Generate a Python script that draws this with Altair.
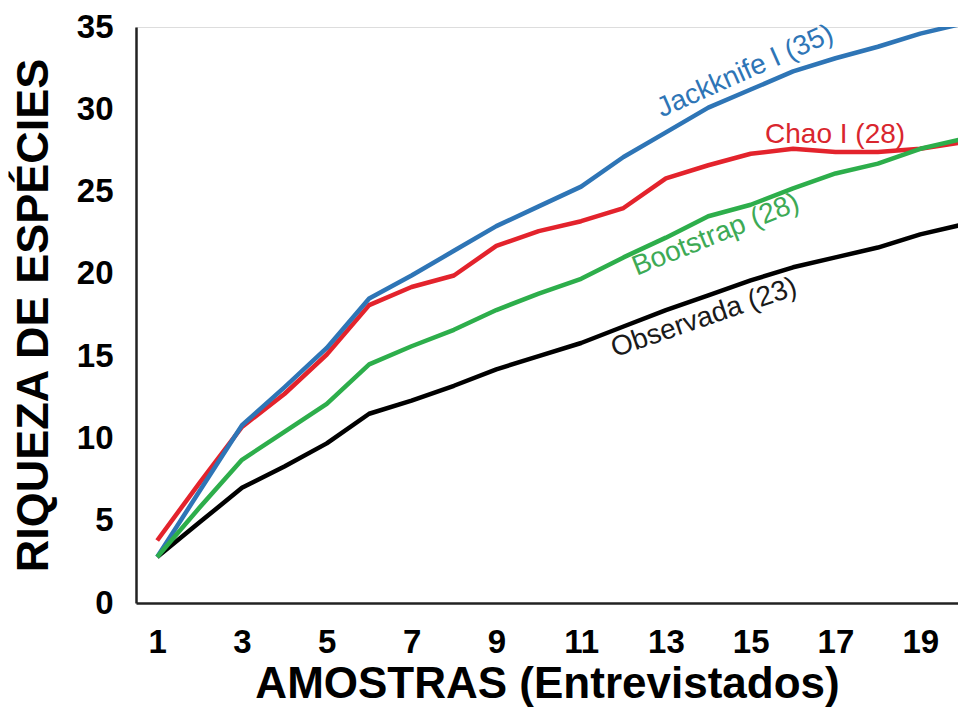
import altair as alt
import pandas as pd

# ---- data ----
amostras = list(range(1, 21))
observada = [2.8, 4.9, 7.0, 8.3, 9.7, 11.5, 12.3, 13.2, 14.2, 15.0, 15.8, 16.8, 17.8, 18.7, 19.6, 20.4, 21.0, 21.6, 22.4, 23.0]
chao1 = [3.8, 7.3, 10.7, 12.7, 15.1, 18.1, 19.2, 19.9, 21.7, 22.6, 23.2, 24.0, 25.8, 26.6, 27.3, 27.6, 27.4, 27.4, 27.6, 28.0]
jackknife1 = [2.8, 6.8, 10.8, 13.1, 15.5, 18.5, 19.9, 21.4, 22.9, 24.1, 25.3, 27.1, 28.6, 30.1, 31.2, 32.3, 33.1, 33.8, 34.6, 35.2]
bootstrap = [2.8, 5.8, 8.7, 10.4, 12.1, 14.5, 15.6, 16.6, 17.8, 18.8, 19.7, 21.0, 22.2, 23.5, 24.2, 25.2, 26.1, 26.7, 27.6, 28.2]

series_names = ["Observada", "Chao I", "Jackknife I", "Bootstrap"]
series_values = [observada, chao1, jackknife1, bootstrap]
series_colors = ["#000000", "#E3232C", "#2E75B6", "#2DAE4B"]

label_texts = ["Jackknife I (35)", "Chao I (28)", "Bootstrap (28)", "Observada (23)"]
label_x = [14.95, 16.99, 14.25, 13.96]
label_y = [31.85, 27.95, 21.9, 16.85]
label_angles = [336, 0, 338, 341]
label_colors = ["#2E75B6", "#D9262E", "#3DAA55", "#1A1A1A"]

x_ticks = [1, 3, 5, 7, 9, 11, 13, 15, 17, 19]
y_ticks = [0, 5, 10, 15, 20, 25, 30, 35]

FONT = "Liberation Sans"

x_scale = alt.Scale(domain=[0.5, 19.89], nice=False, zero=False)
y_scale = alt.Scale(domain=[0, 35], nice=False)

x_axis = alt.Axis(
    values=x_ticks, title="AMOSTRAS (Entrevistados)", grid=False, ticks=False, tickSize=0,
    labelPadding=23, labelFontSize=33, labelFontWeight="bold", labelFont=FONT, labelColor="#000",
    titleFontSize=44, titleFontWeight="bold", titleFont=FONT, titleColor="#000",
    titleY=94, titleBaseline="alphabetic", titleAnchor="middle",
    domainColor="#222", domainWidth=2.5, labelFlush=False,
)
y_axis = alt.Axis(
    values=y_ticks, title="RIQUEZA DE ESPÉCIES", grid=False, ticks=False, tickSize=0,
    labelPadding=23, labelFontSize=33, labelFontWeight="bold", labelFont=FONT, labelColor="#000",
    titleFontSize=45, titleFontWeight="bold", titleFont=FONT, titleColor="#000",
    titleAngle=270, titleX=-89, titleY=288, titleAlign="center", titleBaseline="alphabetic",
    domainColor="#222", domainWidth=2.5, labelFlush=False,
)

enc_x = alt.X("amostra:Q", scale=x_scale, axis=x_axis)
enc_y = alt.Y("riqueza:Q", scale=y_scale, axis=y_axis)

layers = []
for name, vals, col in zip(series_names, series_values, series_colors):
    df = pd.DataFrame({"amostra": amostras, "riqueza": vals, "serie": name})
    layers.append(
        alt.Chart(df).mark_line(color=col, strokeWidth=4.5, clip=True, strokeJoin="round").encode(x=enc_x, y=enc_y)
    )

labels_df = pd.DataFrame({
    "texto": label_texts, "amostra": label_x, "riqueza": label_y,
    "angulo": label_angles, "cor": label_colors,
})
labels = alt.Chart(labels_df).mark_text(
    font=FONT, fontSize=28, align="center", baseline="alphabetic"
).encode(
    x=enc_x,
    y=enc_y,
    text="texto:N",
    angle=alt.Angle("angulo:Q", scale=None),
    color=alt.Color("cor:N", scale=None),
)
layers.append(labels)

chart = alt.layer(*layers).properties(
    width=822, height=576,
    autosize=alt.AutoSizeParams(type="none"),
    padding={"left": 128, "top": 19, "right": 0, "bottom": 104},
).configure_view(strokeWidth=0, stroke="transparent").configure(background="white")

chart.save("out.html", embed_options={"renderer": "svg", "actions": False})
